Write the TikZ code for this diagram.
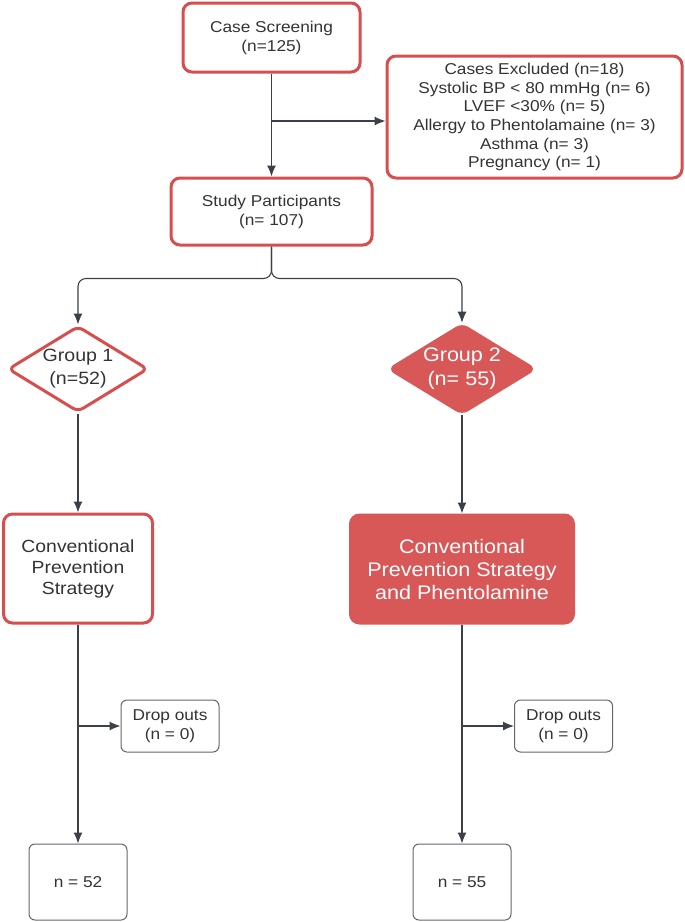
\documentclass[tikz,border=0pt]{standalone}
\usepackage{fontspec}
\setmainfont{Liberation Sans}[FakeStretch=1.1]
\usepackage{xcolor}
\usetikzlibrary{shapes.geometric, arrows.meta}
\definecolor{boxred}{RGB}{214,78,78}
\definecolor{fillred}{RGB}{216,88,88}
\definecolor{txtgray}{RGB}{52,52,52}
\definecolor{linegray}{RGB}{60,64,72}
\tikzset{
  redbox/.style={draw=boxred, line width=3pt, rounded corners=9pt, fill=white,
    text=txtgray, align=center, inner sep=0pt, font=\fontsize{15.7}{19}\selectfont},
  graybox/.style={draw=linegray!80, line width=1pt, rounded corners=6pt, fill=white,
    text=txtgray, align=center, inner sep=0pt, font=\fontsize{15.7}{19}\selectfont},
  groupdia/.style={diamond, draw=boxred, line width=3pt, rounded corners=6pt, aspect=1.63,
    inner sep=0pt, minimum width=140pt, minimum height=86pt, align=center},
  arr/.style={-{Latex[length=11pt, width=9pt]}, draw=linegray, line width=1.1pt}
}

\begin{document}
\begin{tikzpicture}[x=1pt, y=-1pt]
  \useasboundingbox (0, 0) rectangle (685, 922);

  \node[redbox, minimum width=177pt, minimum height=69pt] (screen) at (271.5, 37.5) {Case Screening\\(n=125)};
  \node[redbox, minimum width=295pt, minimum height=122pt, font=\fontsize{15.7}{18.7}\selectfont] (excl) at (534.5, 117)
    {Cases Excluded (n=18)\\Systolic BP < 80 mmHg (n= 6)\\LVEF <30\% (n= 5)\\Allergy to Phentolamaine (n= 3)\\Asthma (n= 3)\\Pregnancy (n= 1)};
  \node[redbox, minimum width=201pt, minimum height=67pt] (part) at (271.5, 211.5) {Study Participants\\(n= 107)};

  \node[groupdia, fill=white, text=txtgray, font=\fontsize{17.8}{23}\selectfont] (grpa) at (78, 369) {Group 1\\(n=52)};
  \node[groupdia, fill=fillred, draw=fillred, text=white, font=\fontsize{19.6}{24}\selectfont] (grpb) at (462, 369) {Group 2\\(n= 55)};

  \node[redbox, minimum width=149pt, minimum height=109pt, font=\fontsize{17.6}{21}\selectfont] (conv) at (78, 568.5)
    {Conventional\\Prevention\\Strategy};
  \node[redbox, fill=fillred, draw=fillred, text=white, minimum width=223pt, minimum height=108pt,
    font=\fontsize{19.6}{23}\selectfont] (phen) at (462, 569)
    {Conventional\\Prevention Strategy\\and Phentolamine};

  \node[graybox, minimum width=98pt, minimum height=52pt] (dropa) at (170, 726) {Drop outs\\(n = 0)};
  \node[graybox, minimum width=98pt, minimum height=52pt] (dropb) at (563.5, 726) {Drop outs\\(n = 0)};
  \node[graybox, minimum width=98pt, minimum height=76pt] (fina) at (78, 882) {n = 52};
  \node[graybox, minimum width=98pt, minimum height=76pt] (finb) at (462, 882) {n = 55};

  \draw[arr] (screen.south) -- (part.north);
  \draw[arr] (screen.south |- 0, 121) -- (excl.west |- 0, 121);
  \draw[arr, rounded corners=8pt] (part.south) -- ++(0, 32) -| (grpa.north);
  \draw[arr, rounded corners=8pt] (part.south) -- ++(0, 32) -| (grpb.north);
  \draw[arr] (grpa.south) -- (conv.north);
  \draw[arr] (grpb.south) -- (phen.north);
  \draw[arr] (conv.south) -- (fina.north);
  \draw[arr] (phen.south) -- (finb.north);
  \draw[arr] (conv.south |- dropa.west) -- (dropa.west);
  \draw[arr] (phen.south |- dropb.west) -- (dropb.west);
\end{tikzpicture}
\end{document}
